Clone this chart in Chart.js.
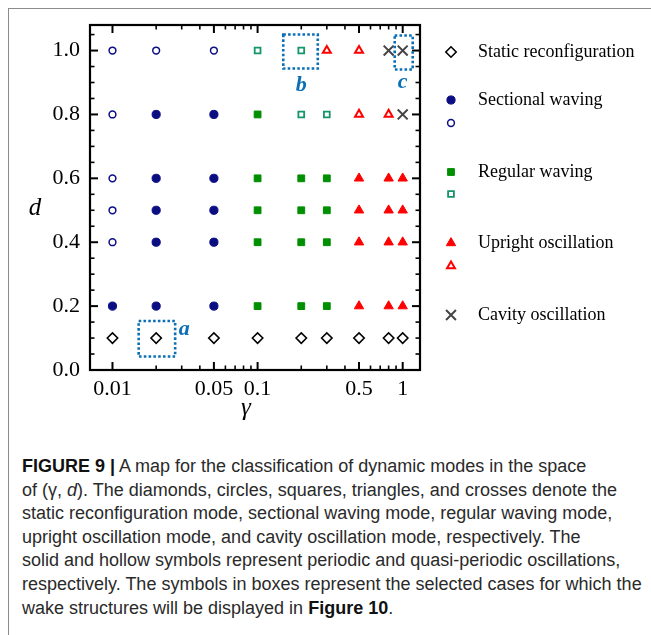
<!DOCTYPE html>
<html>
<head>
<meta charset="utf-8">
<script src="https://cdn.jsdelivr.net/npm/chart.js@4.4.0/dist/chart.umd.min.js"></script>
<style>
  html, body { margin: 0; padding: 0; background: #fff; }
  body { width: 651px; height: 635px; position: relative; overflow: hidden; }
  #frame { position: absolute; left: 8px; top: 8px; width: 700px; height: 700px; border: 1.5px solid #8c8c8c; }
  #chart { position: absolute; left: 0; top: 0; }
  #caption {
    position: absolute; left: 22px; top: 455px;
    font-family: 'Liberation Sans', Arial, sans-serif; font-size: 18px;
    line-height: 23.6px; color: #2a2a2a; white-space: nowrap;
  }
  #caption b { font-weight: bold; color: #111; }
</style>
</head>
<body>
<div id="frame"></div>
<canvas id="chart" width="651" height="440"></canvas>
<div id="caption">
  <b>FIGURE 9 |</b> A map for the classification of dynamic modes in the space<br>
  of (γ, <i>d</i>). The diamonds, circles, squares, triangles, and crosses denote the<br>
  static reconfiguration mode, sectional waving mode, regular waving mode,<br>
  upright oscillation mode, and cavity oscillation mode, respectively. The<br>
  solid and hollow symbols represent periodic and quasi-periodic oscillations,<br>
  respectively. The symbols in boxes represent the selected cases for which the<br>
  wake structures will be displayed in <b>Figure 10</b>.
</div>
<script>
const gammaValues = [0.01, 0.02, 0.05, 0.1, 0.2, 0.3, 0.5, 0.8, 1]
const dLevels = [1.0, 0.8, 0.6, 0.5, 0.4, 0.2, 0.1]
// one row per d level, one code per gamma value
// S static, W/w sectional (solid/hollow), R/r regular, U/u upright, C cavity
const modeRows = [
  ['w', 'w', 'w', 'r', 'r', 'u', 'u', 'C', 'C'],
  ['w', 'W', 'W', 'R', 'r', 'r', 'u', 'u', 'C'],
  ['w', 'W', 'W', 'R', 'R', 'R', 'U', 'U', 'U'],
  ['w', 'W', 'W', 'R', 'R', 'R', 'U', 'U', 'U'],
  ['w', 'W', 'W', 'R', 'R', 'R', 'U', 'U', 'U'],
  ['W', 'W', 'W', 'R', 'R', 'R', 'U', 'U', 'U'],
  ['S', 'S', 'S', 'S', 'S', 'S', 'S', 'S', 'S']
]
const modeOrder = ['S', 'W', 'w', 'R', 'r', 'U', 'u', 'C']
const modeLabels = ['Static reconfiguration', 'Sectional waving', '', 'Regular waving', '', 'Upright oscillation', '', 'Cavity oscillation']

const xTickValues = [0.01, 0.05, 0.1, 0.5, 1]
const xTickLabels = ['0.01', '0.05', '0.1', '0.5', '1']
const xMinorValues = [0.02, 0.03, 0.04, 0.06, 0.07, 0.08, 0.09, 0.2, 0.3, 0.4, 0.6, 0.7, 0.8, 0.9]
const yTickValues = [0, 0.2, 0.4, 0.6, 0.8, 1.0]
const yTickLabels = ['0.0', '0.2', '0.4', '0.6', '0.8', '1.0']
const yMinorValues = [0.05, 0.1, 0.15, 0.25, 0.3, 0.35, 0.45, 0.5, 0.55, 0.65, 0.7, 0.75, 0.85, 0.9, 0.95, 1.05]

const caseLabels = ['a', 'b', 'c']
const caseGamma = [0.02, 0.2, 1]
const caseD = [0.1, 1.0, 1.0]

const NAVY = '#0b0e82'
const styles = {
  S: { pointStyle: 'rectRot', radius: 5.2, color: '#000', solid: false, bw: 1.6 },
  W: { pointStyle: 'circle', radius: 4.1, color: NAVY, solid: true, bw: 1 },
  w: { pointStyle: 'circle', radius: 3.4, color: NAVY, solid: false, bw: 1.5 },
  R: { pointStyle: 'rect', radius: 4.8, color: '#008f00', solid: true, bw: 1 },
  r: { pointStyle: 'rect', radius: 4.1, color: '#12966a', solid: false, bw: 1.8 },
  U: { pointStyle: 'triangle', radius: 5.4, color: '#f00', solid: true, bw: 1 },
  u: { pointStyle: 'triangle', radius: 4.6, color: '#f00', solid: false, bw: 2 },
  C: { pointStyle: 'crossRot', radius: 7, color: '#444', solid: false, bw: 2 }
}

const datasets = modeOrder.map((code, i) => {
  const pts = []
  modeRows.forEach((row, r) => row.forEach((c, g) => {
    if (c === code) pts.push({ x: gammaValues[g], y: dLevels[r] })
  }))
  const s = styles[code]
  return {
    label: modeLabels[i] || code,
    data: pts,
    pointStyle: s.pointStyle,
    pointRadius: s.radius,
    pointHoverRadius: s.radius,
    pointBorderWidth: s.bw,
    pointBorderColor: s.color,
    pointBackgroundColor: s.solid ? s.color : 'rgba(255,255,255,0)',
    showLine: false
  }
})

const boxSizes = { a: [17.5, 19, 17, 18.5], b: [18, 16.5, 16, 18], c: [8, 10, 15, 19] }
const labelOffsets = { a: [22.5, -3, 'left'], b: [0, 40, 'center'], c: [0, 37, 'center'] }
const legendY = [52, 100, 123, 172, 194, 243, 266, 315]

function markerOpts(code) {
  const s = styles[code]
  return { pointStyle: s.pointStyle, radius: s.radius, rotation: 0, borderWidth: s.bw }
}

const decor = {
  id: 'decor',
  afterDatasetsDraw(chart) {
    const { ctx, chartArea: a, scales: { x, y } } = chart
    ctx.save()
    ctx.strokeStyle = '#000'
    ctx.lineCap = 'butt'
    const line = (x1, y1, x2, y2, w) => {
      ctx.lineWidth = w
      ctx.beginPath(); ctx.moveTo(x1, y1); ctx.lineTo(x2, y2); ctx.stroke()
    }
    xTickValues.forEach(v => {
      const p = x.getPixelForValue(v)
      line(p, a.bottom, p, a.bottom - 8, 2); line(p, a.top, p, a.top + 8, 2)
    })
    xMinorValues.forEach(v => {
      const p = x.getPixelForValue(v)
      line(p, a.bottom, p, a.bottom - 4.5, 1.6); line(p, a.top, p, a.top + 4.5, 1.6)
    })
    yTickValues.forEach(v => {
      const p = y.getPixelForValue(v)
      line(a.left, p, a.left + 8, p, 2); line(a.right, p, a.right - 8, p, 2)
    })
    yMinorValues.forEach(v => {
      const p = y.getPixelForValue(v)
      line(a.left, p, a.left + 4.5, p, 1.6); line(a.right, p, a.right - 4.5, p, 1.6)
    })
    ctx.lineWidth = 2.2
    ctx.strokeRect(a.left, a.top, a.right - a.left, a.bottom - a.top)

    // axis titles
    ctx.fillStyle = '#000'
    ctx.textAlign = 'center'
    ctx.textBaseline = 'middle'
    ctx.font = 'italic 25px "Liberation Serif", serif'
    ctx.fillText('d', 35, 208)
    ctx.fillText('γ', 246, 408)

    // selected cases
    caseLabels.forEach((lab, i) => {
      const px = x.getPixelForValue(caseGamma[i])
      const py = y.getPixelForValue(caseD[i])
      const [l, r, t, b] = boxSizes[lab]
      ctx.strokeStyle = '#0b6fb6'
      ctx.lineWidth = 2.6
      ctx.setLineDash([2.6, 2.2])
      ctx.strokeRect(px - l, py - t, l + r, t + b)
      ctx.setLineDash([])
      const [dx, dy, align] = labelOffsets[lab]
      ctx.fillStyle = '#0b6fb6'
      ctx.font = 'italic bold 22px "Liberation Serif", serif'
      ctx.textAlign = align
      ctx.textBaseline = 'alphabetic'
      ctx.fillText(lab, px + dx, py + dy)
    })

    // legend
    modeOrder.forEach((code, i) => {
      const s = styles[code]
      ctx.fillStyle = s.solid ? s.color : 'rgba(255,255,255,0)'
      ctx.strokeStyle = s.color
      ctx.lineWidth = s.bw
      Chart.helpers.drawPoint(ctx, markerOpts(code), 451, legendY[i])
      if (modeLabels[i]) {
        ctx.fillStyle = '#000'
        ctx.font = '18px "Liberation Serif", serif'
        ctx.textAlign = 'left'
        ctx.textBaseline = 'middle'
        ctx.fillText(modeLabels[i], 478, legendY[i])
      }
    })
    ctx.restore()
  }
}

new Chart(document.getElementById('chart'), {
  type: 'scatter',
  data: { datasets },
  options: {
    responsive: false,
    animation: false,
    events: [],
    layout: { padding: { left: 0, top: 25, right: 231, bottom: 0 } },
    plugins: { legend: { display: false }, tooltip: { enabled: false } },
    scales: {
      x: {
        type: 'logarithmic',
        min: 0.007,
        max: 1.316,
        grid: { display: false, drawTicks: false },
        border: { display: false },
        afterBuildTicks: s => { s.ticks = xTickValues.map(v => ({ value: v })) },
        afterFit: s => { s.height = 70 },
        ticks: {
          autoSkip: false,
          maxRotation: 0,
          padding: 6,
          color: '#000',
          font: { family: 'Liberation Serif', size: 22 },
          callback: v => xTickLabels[xTickValues.indexOf(v)] ?? ''
        }
      },
      y: {
        min: 0,
        max: 1.08,
        grid: { display: false, drawTicks: false },
        border: { display: false },
        afterBuildTicks: s => { s.ticks = yTickValues.map(v => ({ value: v })) },
        afterFit: s => { s.width = 90 },
        ticks: {
          padding: 10,
          color: '#000',
          font: { family: 'Liberation Serif', size: 22 },
          callback: v => yTickLabels[yTickValues.indexOf(v)] ?? ''
        }
      }
    }
  },
  plugins: [decor]
})
</script>
</body>
</html>
